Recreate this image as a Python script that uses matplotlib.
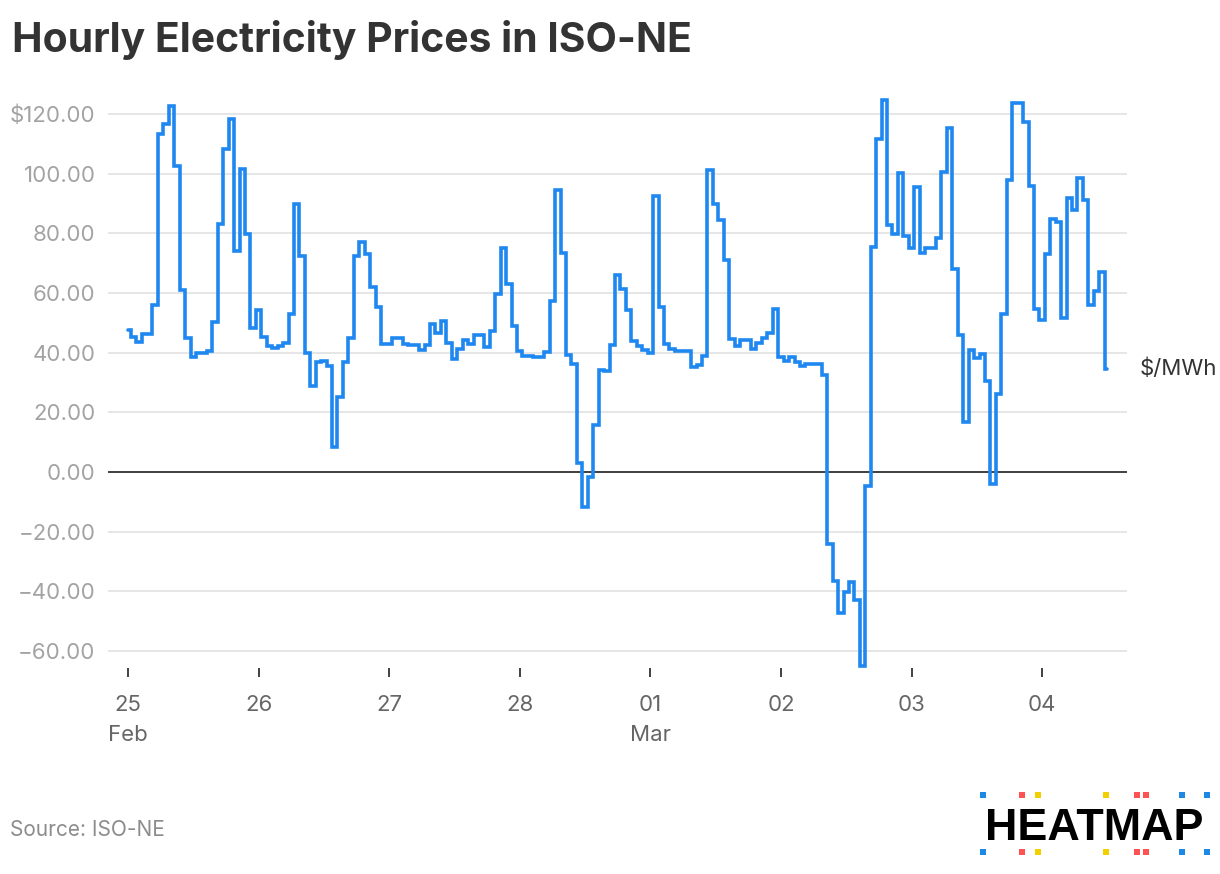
import numpy as np
import matplotlib
matplotlib.use("Agg")
import matplotlib.pyplot as plt
from matplotlib.patches import Rectangle

# Hourly prices ($/MWh), starting 25 Feb 00:00
prices = [
    47.7, 45.3, 43.5, 46.2, 46.2, 55.9, 113.2, 116.8, 122.8, 102.5,
    61.0, 45.1, 38.5, 39.9, 39.9, 40.6, 50.2, 83.1, 108.4, 118.2,
    74.1, 101.7, 79.8, 48.2, 54.2, 45.3, 42.4, 41.5, 42.4, 43.1,
    52.9, 89.8, 72.3, 39.8, 28.8, 37.0, 37.1, 35.5, 8.3, 25.2,
    37.0, 45.0, 72.5, 77.2, 73.1, 61.9, 55.2, 43.0, 42.8, 45.1,
    45.1, 43.0, 42.7, 42.6, 41.0, 42.7, 49.6, 46.7, 50.7, 43.2,
    37.9, 41.2, 44.3, 43.0, 45.8, 45.8, 41.9, 47.4, 59.6, 75.1,
    63.1, 49.1, 40.7, 38.8, 38.8, 38.4, 38.4, 40.1, 57.5, 94.7,
    73.3, 39.1, 36.3, 2.9, -11.8, -1.6, 15.7, 34.3, 33.8, 42.7,
    66.1, 61.3, 54.4, 43.8, 42.1, 41.0, 39.9, 92.5, 55.3, 43.0,
    41.3, 40.5, 40.5, 40.5, 35.3, 35.9, 39.0, 101.2, 89.8, 84.6,
    71.0, 44.5, 42.4, 44.3, 44.3, 41.3, 43.3, 45.1, 46.5, 54.6,
    38.7, 37.3, 38.7, 37.0, 35.6, 36.2, 36.2, 36.2, 32.4, -24.1,
    -36.4, -47.4, -40.2, -36.8, -42.9, -65.0, -4.7, 75.4, 111.7, 124.7,
    82.9, 79.9, 100.2, 79.0, 75.1, 95.7, 73.6, 75.1, 75.1, 78.4,
    100.7, 115.4, 68.0, 46.1, 16.8, 40.8, 38.3, 39.6, 30.5, -3.9,
    26.0, 53.1, 97.9, 123.8, 123.8, 117.5, 96.0, 54.8, 50.9, 73.1,
    84.8, 83.7, 51.6, 91.8, 87.9, 98.5, 91.2, 55.9, 60.6, 67.0,
    34.6,
]
hours = np.arange(len(prices))

day_ticks = [0, 24, 48, 72, 96, 120, 144, 168]
day_labels = ["25\nFeb", "26", "27", "28", "01\nMar", "02", "03", "04"]
y_ticks = [-60, -40, -20, 0, 20, 40, 60, 80, 100, 120]
y_labels = ["\u221260.00", "\u221240.00", "\u221220.00", "0.00", "20.00",
            "40.00", "60.00", "80.00", "100.00", "$120.00"]

title = "Hourly Electricity Prices in ISO-NE"
unit_label = "$/MWh"
source = "Source: ISO-NE"
brand = "HEATMAP"

plt.rcParams['font.family'] = ['Inter', 'DejaVu Sans']

W, H = 1220, 874
fig = plt.figure(figsize=(W / 100, H / 100), dpi=100)
fig.patch.set_facecolor("white")

left, right, top, bottom = 108, 1127, 98, 668
ax = fig.add_axes([left / W, 1 - bottom / H, (right - left) / W, (bottom - top) / H])

ax.step(hours, prices, where='mid', color='#1f88f0', lw=2.6,
        solid_joinstyle='miter', solid_capstyle='round', zorder=4, clip_on=False)
ax.axhline(0, color='#333333', lw=1.3, zorder=3)

ax.set_xlim(-3.675, 183.6)
ax.set_ylim(-65.7, 125.4)

ax.set_yticks(y_ticks)
ax.set_yticklabels(y_labels)
ax.set_xticks(day_ticks)
ax.set_xticklabels(day_labels)
for lbl in ax.get_xticklabels():
    lbl.set_linespacing(1.65)

ax.grid(axis='y', color='#e6e6e6', lw=1.4, zorder=1)
ax.set_axisbelow(True)
for s in ax.spines.values():
    s.set_visible(False)

ax.tick_params(axis='y', length=0, pad=9, labelsize=16, labelcolor='#a3a3a3')
ax.tick_params(axis='x', length=6.5, width=1.3, color='#333333', pad=13,
               labelsize=16, labelcolor='#666666')

ax.annotate(unit_label, xy=(hours[-1], prices[-1]), xytext=(23, 0),
            textcoords='offset points', va='center', ha='left',
            fontsize=16, color='#333333')

fig.text(12 / W, 1 - 52 / H, title, fontsize=29.4, fontweight='bold',
         color='#333333', va='baseline', ha='left')
fig.text(10 / W, 1 - 836 / H, source, fontsize=15, color='#8c8c8c',
         va='baseline', ha='left')

fig.text(985 / W, 1 - 840 / H, brand, fontsize=32.3, fontweight='bold',
         color='black', va='baseline', ha='left',
         family=['Liberation Sans', 'DejaVu Sans'])

dot_x = [982.7, 1021.7, 1038.3, 1106, 1136.7, 1146, 1181.7, 1206.7]
dot_c = ['#1e88e5', '#ff5252', '#f2d000', '#f2d000', '#ff5252', '#ff5252',
         '#1e88e5', '#1e88e5']
ds = 6
for yy in (795, 852):
    for xx, cc in zip(dot_x, dot_c):
        fig.patches.append(Rectangle(((xx - ds / 2) / W, 1 - (yy + ds / 2) / H),
                                     ds / W, ds / H, transform=fig.transFigure,
                                     facecolor=cc, edgecolor='none'))

fig.savefig("out.png", dpi=100, facecolor="white")
